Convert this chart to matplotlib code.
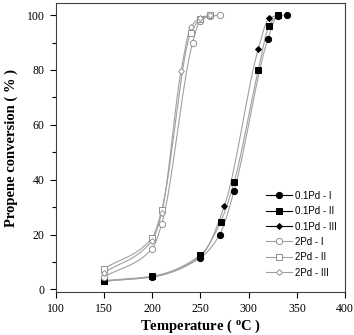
import numpy as np
import matplotlib
matplotlib.use("Agg")
import matplotlib.pyplot as plt
from matplotlib.ticker import MultipleLocator

# data (temperature in oC, conversion in %)
t_01_1 = [150, 200, 250, 270, 285, 320, 330, 340]
c_01_1 = [3.0, 4.5, 11.5, 20.0, 36.0, 91.3, 99.6, 100.0]
t_01_2 = [150, 200, 250, 271, 285, 310, 321, 330]
c_01_2 = [3.2, 4.8, 12.5, 24.6, 39.2, 80.0, 96.0, 100.0]
t_01_3 = [150, 200, 250, 275, 310, 321, 330]
c_01_3 = [3.0, 4.6, 12.0, 30.5, 87.6, 98.8, 100.0]

t_2_1 = [150, 200, 210, 242, 250, 260, 270]
c_2_1 = [4.5, 14.8, 23.9, 90.0, 98.0, 99.5, 100.0]
t_2_2 = [150, 200, 210, 240, 250, 260]
c_2_2 = [7.5, 18.8, 29.0, 93.3, 98.5, 100.0]
t_2_3 = [150, 200, 210, 230, 240, 250, 260]
c_2_3 = [6.0, 17.8, 28.0, 79.6, 95.5, 99.0, 100.0]


def pchip(x, y, xs):
    # monotone cubic hermite, just for the smooth guide lines
    x = np.asarray(x, float)
    y = np.asarray(y, float)
    h = np.diff(x)
    d = np.diff(y) / h
    m = np.zeros_like(y)
    for k in range(1, len(x) - 1):
        if d[k - 1] * d[k] > 0:
            w1 = 2 * h[k] + h[k - 1]
            w2 = h[k] + 2 * h[k - 1]
            m[k] = (w1 + w2) / (w1 / d[k - 1] + w2 / d[k])
    m[0] = d[0]
    m[-1] = d[-1]
    out = np.empty_like(xs)
    for i, v in enumerate(xs):
        k = min(np.searchsorted(x, v, side="right") - 1, len(x) - 2)
        s = (v - x[k]) / h[k]
        h00 = 2 * s**3 - 3 * s**2 + 1
        h10 = s**3 - 2 * s**2 + s
        h01 = -2 * s**3 + 3 * s**2
        h11 = s**3 - s**2
        out[i] = h00 * y[k] + h10 * h[k] * m[k] + h01 * y[k + 1] + h11 * h[k] * m[k + 1]
    return out


plt.rcParams["font.family"] = ["Liberation Serif", "DejaVu Serif"]

fig = plt.figure(figsize=(3.54, 3.35), dpi=100)
ax = fig.add_axes([0.157, 0.128, 0.818, 0.863])

series = [
    (t_01_1, c_01_1, "o", 4.5, "black", "0.1Pd - I"),
    (t_01_2, c_01_2, "s", 4.5, "black", "0.1Pd - II"),
    (t_01_3, c_01_3, "D", 3.0, "black", "0.1Pd - III"),
    (t_2_1, c_2_1, "o", 4.5, "white", "2Pd - I"),
    (t_2_2, c_2_2, "s", 4.5, "white", "2Pd - II"),
    (t_2_3, c_2_3, "D", 3.0, "white", "2Pd - III"),
]

line_col = "#a0a0a0"
handles = []
for t, c, mk, ms, fc, lab in series:
    xs = np.linspace(t[0], t[-1], 300)
    ax.plot(xs, pchip(t, c, xs), color=line_col, lw=0.8, zorder=1)
    ec = "black" if fc == "black" else "#909090"
    ax.plot(t, c, ls="none", marker=mk, ms=ms, mfc=fc, mec=ec, mew=0.7, zorder=2)
    h, = ax.plot([], [], color=line_col if fc == "white" else "black", lw=0.8,
                 marker=mk, ms=ms, mfc=fc, mec=ec, mew=0.7)
    handles.append((h, lab))

ax.set_xlim(100, 400)
ax.set_ylim(-1, 104.4)
ax.xaxis.set_major_locator(MultipleLocator(50))
ax.yaxis.set_major_locator(MultipleLocator(20))
ax.yaxis.set_minor_locator(MultipleLocator(10))
ax.tick_params(which="both", direction="out", labelsize=8.5, top=False, right=False)
ax.tick_params(which="major", length=4, width=0.8, pad=4)
ax.tick_params(which="minor", length=3, width=0.8)
for sp in ax.spines.values():
    sp.set_linewidth(0.8)
    sp.set_color("#404040")

ax.set_xlabel(r"Temperature ( $\mathregular{^{o}}$C )", fontsize=10.5, fontweight="bold", labelpad=2)
ax.set_ylabel("Propene conversion ( % )", fontsize=10.5, fontweight="bold", labelpad=6)

leg = ax.legend([h for h, _ in handles], [l for _, l in handles], loc="lower right",
                bbox_to_anchor=(1.0, 0.02), frameon=False, handlelength=2.6,
                handletextpad=0.3, labelspacing=0.55,
                prop={"family": "Liberation Sans", "size": 7})

fig.savefig("out.png", dpi=100)
